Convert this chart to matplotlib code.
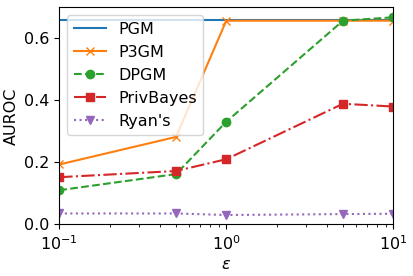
import matplotlib
matplotlib.use('Agg')
import matplotlib.pyplot as plt

# epsilon values
epsilons = [0.1, 0.5, 1, 5, 10]

pgm = [0.658, 0.658, 0.658, 0.658, 0.658]
p3gm = [0.193, 0.282, 0.657, 0.657, 0.657]
dpgm = [0.110, 0.162, 0.331, 0.657, 0.668]
privbayes = [0.152, 0.172, 0.210, 0.389, 0.380]
ryans = [0.035, 0.035, 0.030, 0.033, 0.034]

plt.rcParams['font.size'] = 11.5

fig = plt.figure(figsize=(4.14, 2.76), dpi=100)
ax = fig.add_axes([0.1432, 0.1873, 0.8068, 0.786])

ax.plot(epsilons, pgm, '-', label='PGM')
ax.plot(epsilons, p3gm, '-x', label='P3GM')
ax.plot(epsilons, dpgm, '--o', label='DPGM')
ax.plot(epsilons, privbayes, '-.s', label='PrivBayes')
ax.plot(epsilons, ryans, ':v', label="Ryan's")

ax.set_xscale('log')
ax.set_xlim(0.1, 10)
ax.set_ylim(0, 0.70)
ax.set_yticks([0.0, 0.2, 0.4, 0.6])
ax.set_xlabel(r'$\varepsilon$', labelpad=3)
ax.set_ylabel('AUROC', labelpad=4)
ax.legend(loc='upper left')

plt.savefig('out.png', dpi=100)
plt.close()
